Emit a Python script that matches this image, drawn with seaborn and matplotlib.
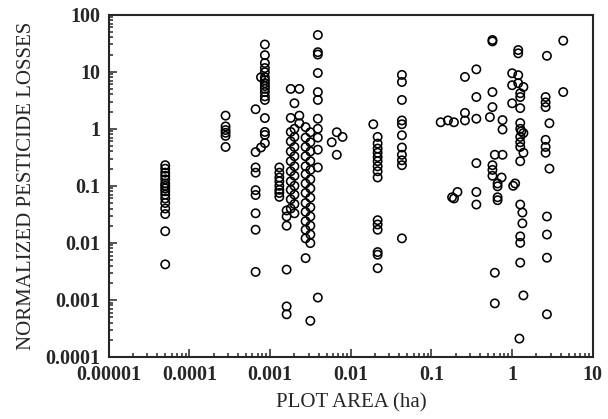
import numpy as np
import pandas as pd
import seaborn as sns
from matplotlib import pyplot as plt
from matplotlib import ticker

# columns of points that share one plot area (ha) -> normalized losses
area_a = 5e-5
loss_a = [0.23, 0.2, 0.17, 0.15, 0.13, 0.11, 0.1, 0.09, 0.08, 0.07, 0.06, 0.05,
          0.04, 0.032, 0.016, 0.0042]
area_b = 2.8e-4
loss_b = [1.7, 1.1, 0.95, 0.85, 0.75, 0.48]
area_c = 6.6e-4
loss_c = [2.2, 0.39, 0.21, 0.17, 0.084, 0.069, 0.033, 0.017, 0.0031]
area_d = 7.7e-4
loss_d = [8.0, 0.47]
area_e = 8.6e-4
loss_e = [30, 19.5, 14.2, 11.6, 9.8, 8.0, 7.1, 6.3, 5.6, 5.0, 4.4, 3.7, 3.2,
          1.54, 0.88, 0.78, 0.56]
area_f = 1.3e-3
loss_f = [0.21, 0.17, 0.14, 0.12, 0.1, 0.085, 0.075, 0.064]
area_g = 1.6e-3
loss_g = [0.037, 0.029, 0.02, 0.0034, 0.00077, 0.00056]
area_h = 1.8e-3
loss_h = [5.0, 1.55, 0.88, 0.6, 0.4, 0.27, 0.18, 0.12, 0.085, 0.058, 0.04]
area_h2 = 2.0e-3
loss_h2 = [2.8, 1.0, 0.72, 0.48, 0.33, 0.22, 0.15, 0.1, 0.07, 0.048, 0.033]
area_i = 2.3e-3
loss_i = [5.0, 1.7, 1.25]
area_j = 2.75e-3
loss_j = [1.07, 0.7, 0.48, 0.33, 0.22, 0.16, 0.11, 0.075, 0.05, 0.035, 0.024,
          0.017, 0.012, 0.0054]
area_j2 = 3.15e-3
loss_j2 = [0.87, 0.58, 0.4, 0.27, 0.19, 0.13, 0.09, 0.062, 0.042, 0.029, 0.02,
           0.014, 0.0099, 0.00043]
area_k = 3.9e-3
loss_k = [44, 22, 20, 9.5, 4.4, 3.2, 1.5, 1.0, 0.7, 0.43, 0.21, 0.0011]
area_l = 0.0215
loss_l = [0.72, 0.55, 0.45, 0.38, 0.32, 0.27, 0.22, 0.18, 0.14, 0.025, 0.021,
          0.017, 0.0069, 0.0062, 0.0036]
area_m = 0.043
loss_m = [8.8, 6.6, 3.2, 1.4, 1.2, 0.77, 0.47, 0.35, 0.28, 0.23, 0.012]

# loose points
loose_area = [5.8e-3, 6.7e-3, 7.9e-3, 6.7e-3, 0.019,
              0.57, 0.57, 1.19, 1.19, 2.7, 4.3, 0.26, 0.36, 1.0, 1.19, 1.19,
              1.0, 1.38, 1.26, 1.26, 2.6, 2.6, 2.6, 4.3, 0.36, 0.57, 0.57,
              1.0, 1.26, 0.26, 0.19, 0.26, 0.36, 0.53, 0.76, 0.76, 1.26, 2.9,
              1.26, 1.26, 1.26, 1.38, 2.6, 2.6, 2.6, 1.38, 1.26, 0.61, 0.76,
              0.36, 0.57, 0.57, 0.57, 0.74, 0.66, 1.09, 2.9, 0.21, 0.18, 0.36,
              0.66, 0.19, 0.36, 0.66, 1.26, 1.34, 1.34, 2.7, 1.26, 1.26, 2.7,
              2.7, 1.26, 0.61, 0.61, 1.38, 2.7, 1.23, 0.13, 0.16, 1.03, 0.66,
              1.26, 1.3]
loose_loss = [0.58, 0.87, 0.72, 0.35, 1.2,
              36, 34, 24, 21, 19, 35, 8.1, 11, 9.4, 8.7, 6.3,
              5.8, 5.4, 4.2, 3.6, 3.6, 2.9, 2.4, 4.4, 3.6, 4.4, 2.4,
              2.8, 2.3, 1.9, 1.3, 1.4, 1.5, 1.6, 1.42, 0.97, 1.26, 1.25,
              0.72, 0.58, 0.48, 0.84, 0.64, 0.48, 0.38, 0.38, 0.27, 0.35, 0.35,
              0.25, 0.23, 0.19, 0.15, 0.14, 0.11, 0.11, 0.2, 0.078, 0.063, 0.078,
              0.063, 0.06, 0.047, 0.056, 0.047, 0.034, 0.022, 0.029, 0.013, 0.01, 0.014,
              0.0055, 0.0045, 0.003, 0.00087, 0.0012, 0.00056, 0.00021, 1.3, 1.4, 0.1, 0.098,
              1.0, 0.9]

xtick_vals = [1e-5, 1e-4, 1e-3, 1e-2, 1e-1, 1, 10]
xtick_labels = ["0.00001", "0.0001", "0.001", "0.01", "0.1", "1", "10"]
ytick_vals = [1e-4, 1e-3, 1e-2, 1e-1, 1, 10, 100]
ytick_labels = ["0.0001", "0.001", "0.01", "0.1", "1", "10", "100"]


def build_frame():
    cols = [(area_a, loss_a), (area_b, loss_b), (area_c, loss_c), (area_d, loss_d),
            (area_e, loss_e), (area_f, loss_f), (area_g, loss_g), (area_h, loss_h),
            (area_h2, loss_h2), (area_i, loss_i), (area_j, loss_j), (area_j2, loss_j2),
            (area_k, loss_k), (area_l, loss_l), (area_m, loss_m)]
    frames = [pd.DataFrame({'area': [a] * len(l), 'loss': l}) for a, l in cols]
    frames.append(pd.DataFrame({'area': loose_area, 'loss': loose_loss}))
    return pd.concat(frames, ignore_index=True)


if __name__ == '__main__':
    sns.set_style('ticks')
    plt.rcParams['font.family'] = ['Liberation Serif', 'DejaVu Serif']

    data = build_frame()
    fig = plt.figure(figsize=(6.08, 4.19), dpi=100)
    ax = fig.add_axes([0.179, 0.148, 0.796, 0.817])
    sns.scatterplot(data=data, x='area', y='loss', ax=ax, marker='o', s=36,
                    facecolors='none', edgecolor='black', linewidth=1.15)
    ax.set_xscale('log')
    ax.set_yscale('log')
    ax.set_xlim(1e-5, 10)
    ax.set_ylim(1e-4, 100)
    ax.set_xticks(xtick_vals, xtick_labels)
    ax.set_yticks(ytick_vals, ytick_labels)
    ax.xaxis.set_minor_locator(ticker.LogLocator(base=10, subs=np.arange(2, 10)))
    ax.yaxis.set_minor_locator(ticker.LogLocator(base=10, subs=np.arange(2, 10)))
    ax.xaxis.set_minor_formatter(ticker.NullFormatter())
    ax.yaxis.set_minor_formatter(ticker.NullFormatter())
    ax.tick_params(which='both', direction='in', top=False, right=False, width=1.1)
    ax.tick_params(which='major', length=6, labelsize=14.5, pad=6)
    ax.tick_params(which='minor', length=3)
    for lbl in ax.get_xticklabels() + ax.get_yticklabels():
        lbl.set_fontweight('bold')
    for sp in ax.spines.values():
        sp.set_linewidth(1.5)
    ax.set_xlabel('PLOT AREA (ha)', fontsize=15, labelpad=6)
    ax.set_ylabel('NORMALIZED PESTICIDE LOSSES', fontsize=15, labelpad=7)
    plt.savefig('out.png', dpi=100)
